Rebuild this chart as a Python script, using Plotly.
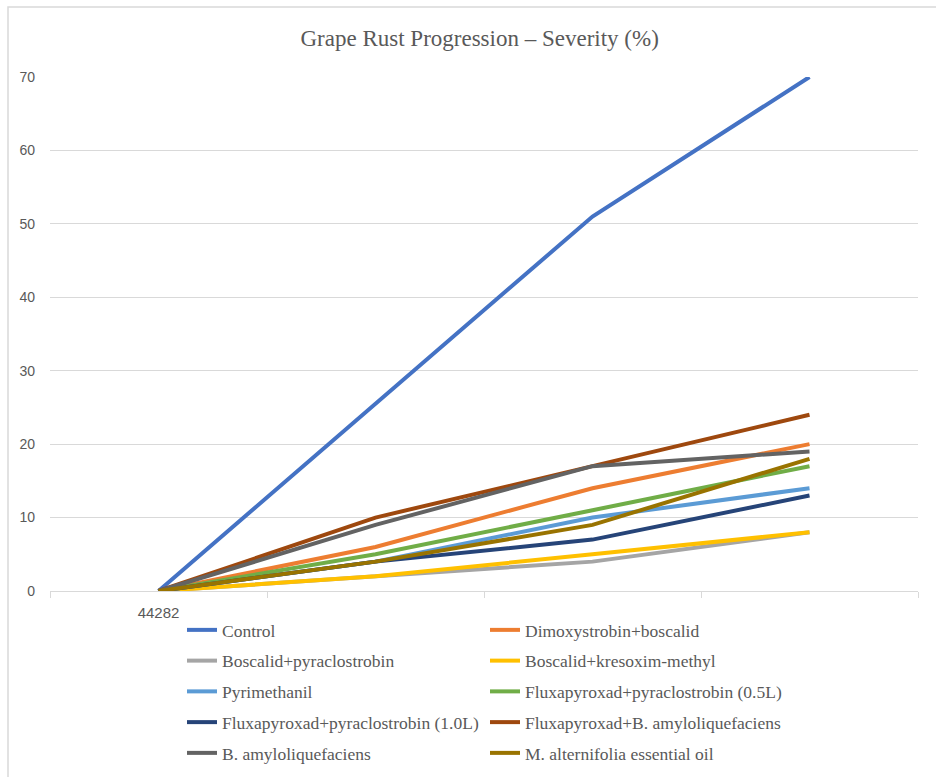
import plotly.graph_objects as go

# ---- data ----
x_pos = [1, 2, 3, 4]
x_labels = ["44282", "", "", ""]

series_names = [
    "Control",
    "Dimoxystrobin+boscalid",
    "Boscalid+pyraclostrobin",
    "Boscalid+kresoxim-methyl",
    "Pyrimethanil",
    "Fluxapyroxad+pyraclostrobin (0.5L)",
    "Fluxapyroxad+pyraclostrobin (1.0L)",
    "Fluxapyroxad+B. amyloliquefaciens",
    "B. amyloliquefaciens",
    "M. alternifolia essential oil",
]
control = [0, 25.5, 51, 70]
dimoxystrobin_boscalid = [0, 6, 14, 20]
boscalid_pyraclostrobin = [0, 2, 4, 8]
boscalid_kresoxim = [0, 2, 5, 8]
pyrimethanil = [0, 4, 10, 14]
flux_pyra_05 = [0, 5, 11, 17]
flux_pyra_10 = [0, 4, 7, 13]
flux_bamy = [0, 10, 17, 24]
bamy = [0, 9, 17, 19]
malternifolia = [0, 4, 9, 18]

series_values = [control, dimoxystrobin_boscalid, boscalid_pyraclostrobin, boscalid_kresoxim,
                 pyrimethanil, flux_pyra_05, flux_pyra_10, flux_bamy, bamy, malternifolia]
colors = ["#4472C4", "#ED7D31", "#A5A5A5", "#FFC000", "#5B9BD5",
          "#70AD47", "#264478", "#9E480E", "#636363", "#997300"]

y_ticks = [0, 10, 20, 30, 40, 50, 60, 70]

fig = go.Figure()
for i, (name, vals, col) in enumerate(zip(series_names, series_values, colors)):
    fig.add_trace(go.Scatter(
        x=x_pos, y=vals, name=name, mode="lines",
        line=dict(color=col, width=4),
        legend="legend" if i % 2 == 0 else "legend2",
        legendgroup="g%d" % i,
        hoverinfo="skip",
    ))

# invisible trace for the category label axis
fig.add_trace(go.Scatter(x=x_pos, y=[None] * 4, xaxis="x2", showlegend=False, hoverinfo="skip"))

W, H = 936, 777
ml, mr, mt, mb = 50, 18, 77, 186
pw, ph = W - ml - mr, H - mt - mb

def px(X):
    return (X - ml) / pw

def py(Y):
    return (H - mb - Y) / ph

legend_font = dict(family="Liberation Serif, Times New Roman, serif", size=17.5, color="#595959")

fig.update_layout(
    width=W, height=H,
    margin=dict(l=ml, r=mr, t=mt, b=mb, autoexpand=False),
    paper_bgcolor="white", plot_bgcolor="white",
    title=dict(text="Grape Rust Progression – Severity (%)", x=0.495, xref="paper",
               y=1 - 38 / H, yanchor="middle", xanchor="center",
               font=dict(family="Liberation Serif, Times New Roman, serif", size=23, color="#595959")),
    xaxis=dict(range=[0.5, 4.5], tickvals=[0.5, 1.5, 2.5, 3.5, 4.5], ticktext=[""] * 5,
               ticks="outside", ticklen=6, tickcolor="#D9D9D9", tickwidth=1,
               showline=True, linecolor="#D9D9D9", linewidth=1,
               showgrid=False, zeroline=False, fixedrange=True, automargin=False),
    xaxis2=dict(range=[0.5, 4.5], overlaying="x", anchor="y", side="bottom",
                tickvals=x_pos, ticktext=x_labels, ticks="", showgrid=False, zeroline=False,
                showline=False, ticklabelstandoff=11, automargin=False,
                tickfont=dict(family="Liberation Sans, Arial, sans-serif", size=15, color="#595959")),
    yaxis=dict(range=[0, 70], tickvals=y_ticks, showgrid=True, gridcolor="#D9D9D9", gridwidth=1,
               zeroline=False, showline=False, ticks="", ticklabelstandoff=14, automargin=False,
               tickfont=dict(family="Liberation Sans, Arial, sans-serif", size=14, color="#595959")),
    legend=dict(x=px(182), y=py(612), xanchor="left", yanchor="top", orientation="v",
                tracegroupgap=5, font=legend_font, bgcolor="rgba(0,0,0,0)", borderwidth=0),
    legend2=dict(x=px(485), y=py(612), xanchor="left", yanchor="top", orientation="v",
                 tracegroupgap=5, font=legend_font, bgcolor="rgba(0,0,0,0)", borderwidth=0),
    shapes=[dict(type="rect", xref="paper", yref="paper",
                 x0=px(8), x1=px(945), y0=py(790), y1=py(7),
                 line=dict(color="#D9D9D9", width=1.5), fillcolor="rgba(0,0,0,0)", layer="below")],
    showlegend=True,
)

fig.write_html("out.html")
